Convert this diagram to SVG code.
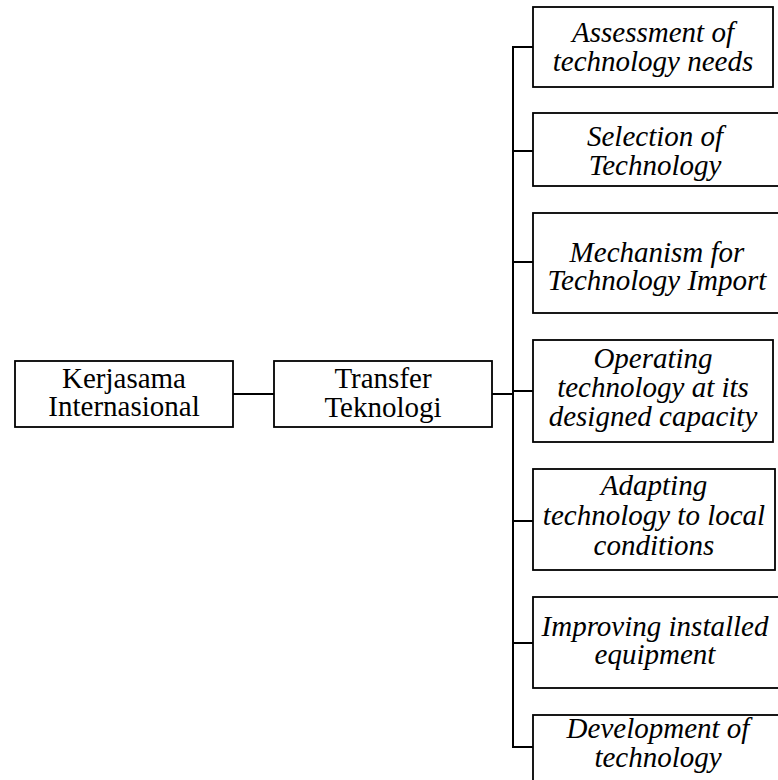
<svg xmlns="http://www.w3.org/2000/svg" width="778" height="780" viewBox="0 0 778 780">
<style>
.box{fill:#fff;stroke:#000;stroke-width:1.8}
.t{font-family:"Liberation Serif","Times New Roman",serif;font-size:29px;fill:#000;text-anchor:middle}
.i{font-style:italic}
.c{stroke:#000;stroke-width:2;fill:none}
</style>
<rect width="778" height="780" fill="#fff"/>
<g id="connectors">
<line class="c" x1="233" y1="394" x2="274" y2="394"/>
<line class="c" x1="492" y1="394" x2="513" y2="394" stroke-width="2.6"/>
<line class="c" x1="513" y1="46" x2="513" y2="748" stroke-width="2.6"/>
<line class="c" x1="513" y1="47" x2="533" y2="47"/>
<line class="c" x1="513" y1="151" x2="533" y2="151"/>
<line class="c" x1="513" y1="262" x2="533" y2="262"/>
<line class="c" x1="513" y1="391" x2="533" y2="391"/>
<line class="c" x1="513" y1="521" x2="533" y2="521"/>
<line class="c" x1="513" y1="643" x2="533" y2="643"/>
<line class="c" x1="513" y1="747" x2="533" y2="747"/>
</g>
<g id="kerjasama">
<rect class="box" x="15" y="361" width="218" height="66"/>
<text class="t" x="124" y="388">Kerjasama</text>
<text class="t" x="124" y="416">Internasional</text>
</g>
<g id="transfer">
<rect class="box" x="274" y="361" width="218" height="66"/>
<text class="t" x="383" y="388">Transfer</text>
<text class="t" x="383" y="417">Teknologi</text>
</g>
<g id="n1">
<rect class="box" x="533" y="7" width="240" height="80"/>
<text class="t i" x="653" y="42">Assessment of</text>
<text class="t i" x="653" y="71">technology needs</text>
</g>
<g id="n2">
<rect class="box" x="533" y="113" width="250" height="73"/>
<text class="t i" x="655" y="146">Selection of</text>
<text class="t i" x="655" y="175">Technology</text>
</g>
<g id="n3">
<rect class="box" x="533" y="213" width="250" height="100"/>
<text class="t i" x="657" y="262">Mechanism for</text>
<text class="t i" x="657" y="290">Technology Import</text>
</g>
<g id="n4">
<rect class="box" x="533" y="340" width="240" height="102"/>
<text class="t i" x="653" y="368">Operating</text>
<text class="t i" x="653" y="397">technology at its</text>
<text class="t i" x="653" y="426">designed capacity</text>
</g>
<g id="n5">
<rect class="box" x="533" y="469" width="242" height="101"/>
<text class="t i" x="654" y="495">Adapting</text>
<text class="t i" x="654" y="525">technology to local</text>
<text class="t i" x="654" y="555">conditions</text>
</g>
<g id="n6">
<rect class="box" x="533" y="597" width="250" height="91"/>
<text class="t i" x="655" y="636">Improving installed</text>
<text class="t i" x="655" y="664">equipment</text>
</g>
<g id="n7">
<rect class="box" x="533" y="715" width="250" height="100"/>
<text class="t i" x="658" y="738">Development of</text>
<text class="t i" x="658" y="767">technology</text>
</g>
</svg>
